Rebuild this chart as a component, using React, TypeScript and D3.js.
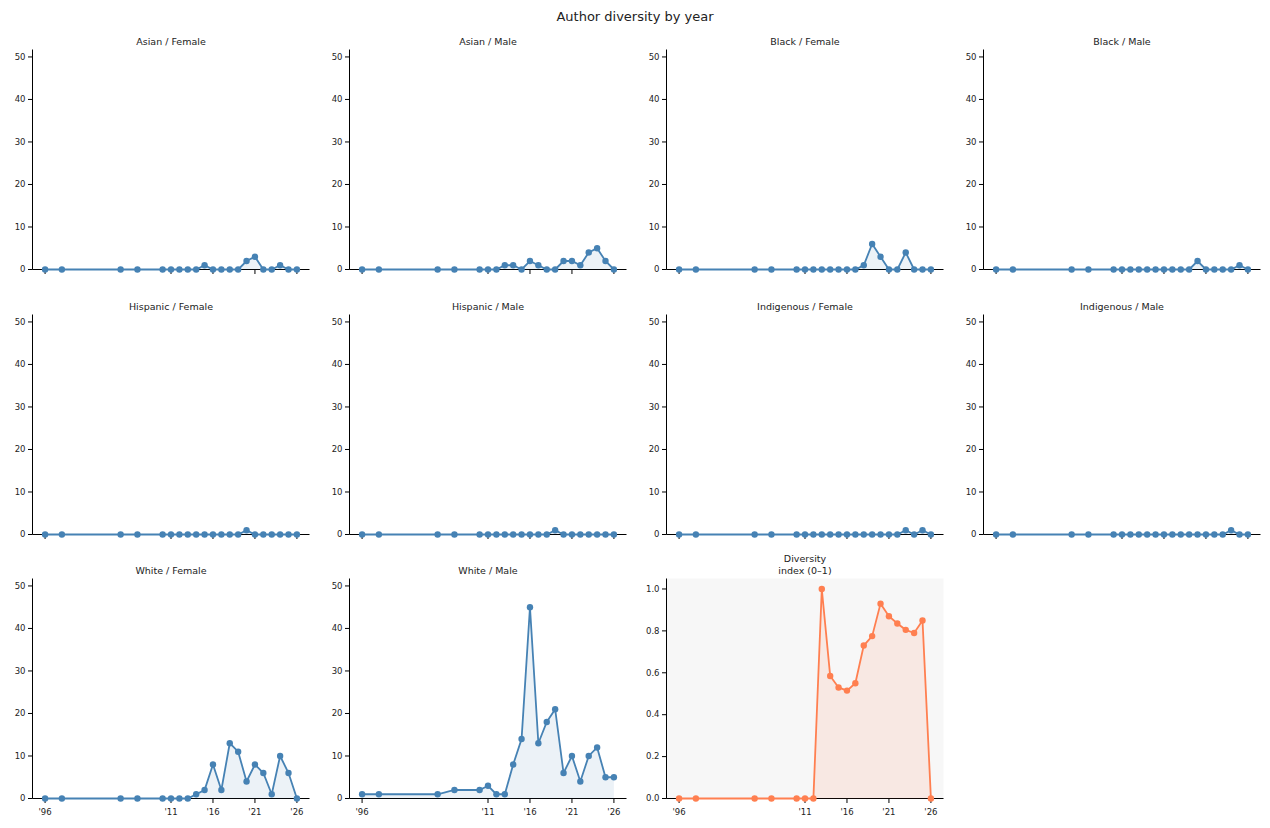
import { useMemo } from 'react';
import * as d3 from 'd3';

const years = [1996, 1998, 2005, 2007, 2010, 2011, 2012, 2013, 2014, 2015, 2016, 2017, 2018, 2019, 2020, 2021, 2022, 2023, 2024, 2025, 2026];

const asianFemale = [0, 0, 0, 0, 0, 0, 0, 0, 0, 1, 0, 0, 0, 0, 2, 3, 0, 0, 1, 0, 0];
const asianMale = [0, 0, 0, 0, 0, 0, 0, 1, 1, 0, 2, 1, 0, 0, 2, 2, 1, 4, 5, 2, 0];
const blackFemale = [0, 0, 0, 0, 0, 0, 0, 0, 0, 0, 0, 0, 1, 6, 3, 0, 0, 4, 0, 0, 0];
const blackMale = [0, 0, 0, 0, 0, 0, 0, 0, 0, 0, 0, 0, 0, 0, 2, 0, 0, 0, 0, 1, 0];
const hispanicFemale = [0, 0, 0, 0, 0, 0, 0, 0, 0, 0, 0, 0, 0, 0, 1, 0, 0, 0, 0, 0, 0];
const hispanicMale = [0, 0, 0, 0, 0, 0, 0, 0, 0, 0, 0, 0, 0, 1, 0, 0, 0, 0, 0, 0, 0];
const indigenousFemale = [0, 0, 0, 0, 0, 0, 0, 0, 0, 0, 0, 0, 0, 0, 0, 0, 0, 1, 0, 1, 0];
const indigenousMale = [0, 0, 0, 0, 0, 0, 0, 0, 0, 0, 0, 0, 0, 0, 0, 0, 0, 0, 1, 0, 0];
const whiteFemale = [0, 0, 0, 0, 0, 0, 0, 0, 1, 2, 8, 2, 13, 11, 4, 8, 6, 1, 10, 6, 0];
const whiteMale = [1, 1, 1, 2, 2, 3, 1, 1, 8, 14, 45, 13, 18, 21, 6, 10, 4, 10, 12, 5, 5];
const diversityIndex = [0, 0, 0, 0, 0, 0, 0, 1.0, 0.585, 0.53, 0.515, 0.55, 0.73, 0.775, 0.93, 0.87, 0.835, 0.805, 0.79, 0.85, 0];

const panelTitles = [
    'Asian / Female', 'Asian / Male', 'Black / Female', 'Black / Male',
    'Hispanic / Female', 'Hispanic / Male', 'Indigenous / Female', 'Indigenous / Male',
    'White / Female', 'White / Male',
];
const panelSeries = [
    asianFemale, asianMale, blackFemale, blackMale,
    hispanicFemale, hispanicMale, indigenousFemale, indigenousMale,
    whiteFemale, whiteMale,
];

const xTicks = [1996, 2011, 2016, 2021, 2026];
const countTicks = [0, 10, 20, 30, 40, 50];
const indexTicks = [0, 0.2, 0.4, 0.6, 0.8, 1.0];

const colLeft = [32.5, 349.5, 666.5, 983.5];
const rowTop = [49.5, 314.5, 578.5];
const panelW = 277;
const panelH = 220;

const blue = '#4682b4';
const orange = '#ff7f50';
const font = 'DejaVu Sans, sans-serif';

interface PanelProps {
    title: string;
    titleLines?: string[];
    values: number[];
    x0: number;
    y0: number;
    color: string;
    yMax: number;
    yTicks: number[];
    yFormat: (v: number) => string;
    showXLabels: boolean;
    bg?: string;
    fillOpacity: number;
}

const Panel = ({ title, titleLines, values, x0, y0, color, yMax, yTicks, yFormat, showXLabels, bg, fillOpacity }: PanelProps) => {
    const x = d3.scaleLinear().domain([1994.5, 2027.5]).range([0, panelW]);
    const y = d3.scaleLinear().domain([0, yMax]).range([panelH, 0]);
    const pts = years.map((yr, i) => ({ yr, v: values[i] }));
    const line = d3.line<{ yr: number; v: number }>().x(d => x(d.yr)).y(d => y(d.v));
    const area = d3.area<{ yr: number; v: number }>().x(d => x(d.yr)).y0(y(0)).y1(d => y(d.v));
    const lines = titleLines ?? [title];

    return (
        <g transform={`translate(${x0},${y0})`}>
            {bg && <rect x={0} y={0} width={panelW} height={panelH} fill={bg} />}
            {/* spines and ticks sit under the data */}
            <line x1={0} x2={0} y1={0} y2={panelH} stroke="#000" strokeWidth={1} />
            <line x1={0} x2={panelW} y1={panelH} y2={panelH} stroke="#000" strokeWidth={1} />
            {yTicks.map(t => (
                <g key={t} transform={`translate(0,${y(t)})`}>
                    <line x1={-4.5} x2={0} stroke="#000" />
                    <text x={-7} dy="0.32em" textAnchor="end" fontSize={8.5} fontFamily={font} fill="#222">
                        {yFormat(t)}
                    </text>
                </g>
            ))}
            {xTicks.map(t => (
                <g key={t} transform={`translate(${x(t)},${panelH})`}>
                    <line y1={0} y2={4.5} stroke="#000" />
                    {showXLabels && (
                        <text y={16} textAnchor="middle" fontSize={8.5} fontFamily={font} fill="#222">
                            {`'${String(t).slice(2)}`}
                        </text>
                    )}
                </g>
            ))}
            <path d={area(pts) ?? ''} fill={color} fillOpacity={fillOpacity} />
            <path d={line(pts) ?? ''} fill="none" stroke={color} strokeWidth={1.8} />
            {pts.map(d => (
                <circle key={d.yr} cx={x(d.yr)} cy={y(d.v)} r={3.2} fill={color} />
            ))}
            {lines.map((l, i) => (
                <text
                    key={i}
                    x={panelW / 2}
                    y={-5 - (lines.length - 1 - i) * 11.5}
                    textAnchor="middle"
                    fontSize={9.5}
                    fontFamily={font}
                    fill="#222"
                >
                    {l}
                </text>
            ))}
        </g>
    );
};

const App = () => {
    const countMax = useMemo(() => (d3.max(panelSeries.flat()) ?? 0) * 1.15, []);
    const countFmt = d3.format('d');
    const indexFmt = d3.format('.1f');

    return (
        <div style={{ position: 'absolute', left: 0, top: 0 }}>
            <svg width={1270} height={828} style={{ display: 'block', background: '#fff' }}>
                <text x={635} y={21} textAnchor="middle" fontSize={13} fontFamily={font} fill="#222">
                    Author diversity by year
                </text>
                {panelSeries.map((vals, i) => (
                    <Panel
                        key={panelTitles[i]}
                        title={panelTitles[i]}
                        values={vals}
                        x0={colLeft[i % 4]}
                        y0={rowTop[Math.floor(i / 4)]}
                        color={blue}
                        yMax={countMax}
                        yTicks={countTicks}
                        yFormat={countFmt}
                        showXLabels={Math.floor(i / 4) === 2}
                        fillOpacity={0.1}
                    />
                ))}
                <Panel
                    title="Diversity index (0–1)"
                    titleLines={['Diversity', 'index (0–1)']}
                    values={diversityIndex}
                    x0={colLeft[2]}
                    y0={rowTop[2]}
                    color={orange}
                    yMax={1.05}
                    yTicks={indexTicks}
                    yFormat={indexFmt}
                    showXLabels={true}
                    bg="#f7f7f7"
                    fillOpacity={0.12}
                />
            </svg>
        </div>
    );
};

export default App;
